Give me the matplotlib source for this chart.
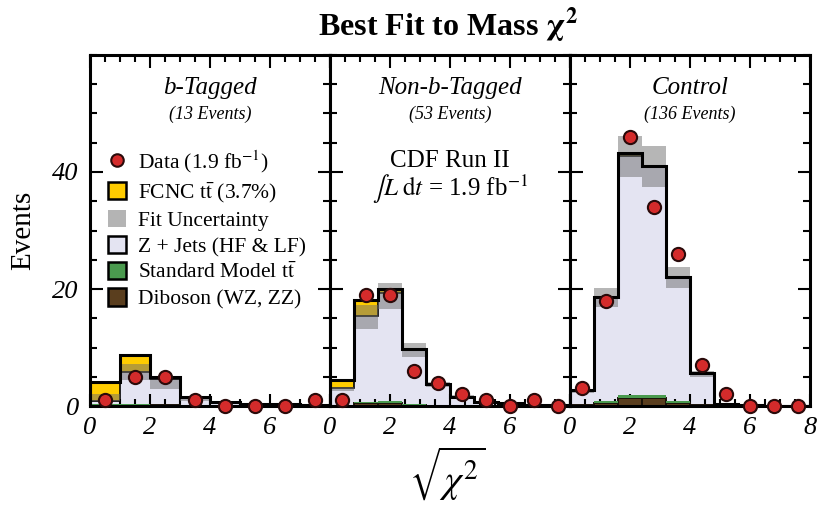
import numpy as np
import matplotlib
matplotlib.use("Agg")
import matplotlib.pyplot as plt
from matplotlib.lines import Line2D
from matplotlib.patches import Patch

plt.rcParams["font.family"] = "serif"
plt.rcParams["font.serif"] = ["Liberation Serif", "DejaVu Serif"]
plt.rcParams["mathtext.fontset"] = "stix"

# --- data (events per bin) ---
panels = ["b-Tagged", "Non-b-Tagged", "Control"]
n_events = ["(13 Events)", "(53 Events)", "(136 Events)"]

edges_b = [0, 1, 2, 3, 4, 5, 6, 7, 8]
data_b = [1, 5, 5, 1, 0, 0, 0, 1]
diboson_b = [0.25, 0.2, 0.1, 0.05, 0.03, 0.02, 0.01, 0.01]
smtt_b = [0.15, 0.2, 0.1, 0.05, 0.02, 0.01, 0.01, 0.0]
zjets_b = [0.5, 5.4, 4.4, 1.3, 0.5, 0.32, 0.23, 0.16]
fcnc_b = [3.2, 3.0, 0.35, 0.2, 0.1, 0.05, 0.05, 0.03]
band_lo_b = [0.9, 4.4, 2.95, 0.8, 0.35, 0.2, 0.15, 0.1]
band_hi_b = [2.1, 7.2, 4.4, 1.4, 0.6, 0.4, 0.3, 0.2]

edges_n = [0, 0.8, 1.6, 2.4, 3.2, 4.0, 4.8, 5.6, 6.4, 7.2, 8.0]
data_n = [1, 19, 19, 6, 4, 2, 1, 0, 1, 0]
diboson_n = [0.05, 0.5, 0.5, 0.2, 0.05, 0.02, 0.01, 0.01, 0.0, 0.0]
smtt_n = [0.05, 0.25, 0.3, 0.2, 0.05, 0.02, 0.01, 0.0, 0.0, 0.0]
zjets_n = [2.9, 14.65, 18.6, 9.2, 3.5, 1.51, 0.73, 0.46, 0.23, 0.1]
fcnc_n = [1.5, 2.8, 0.6, 0.2, 0.1, 0.05, 0.02, 0.03, 0.02, 0.05]
band_lo_n = [2.6, 13.2, 16.5, 8.3, 3.2, 1.3, 0.6, 0.35, 0.15, 0.05]
band_hi_n = [3.3, 17.2, 21.1, 10.7, 4.1, 1.8, 0.9, 0.55, 0.3, 0.15]

edges_c = [0, 0.8, 1.6, 2.4, 3.2, 4.0, 4.8, 5.6, 6.4, 7.2, 8.0]
data_c = [3, 18, 46, 34, 26, 7, 2, 0, 0, 0]
diboson_c = [0.1, 0.6, 1.3, 1.3, 0.6, 0.1, 0.02, 0.0, 0.0, 0.0]
smtt_c = [0.05, 0.3, 0.5, 0.5, 0.3, 0.05, 0.01, 0.0, 0.0, 0.0]
zjets_c = [2.5, 17.5, 41.0, 39.0, 20.95, 5.4, 0.37, 0.15, 0.08, 0.05]
fcnc_c = [0.05, 0.3, 0.5, 0.3, 0.15, 0.05, 0.0, 0.0, 0.0, 0.0]
band_lo_c = [2.3, 16.9, 39.2, 37.5, 20.1, 5.0, 0.3, 0.1, 0.0, 0.0]
band_hi_c = [2.9, 20.1, 46.2, 44.4, 23.8, 6.0, 0.5, 0.2, 0.1, 0.1]

C_FCNC = "#FFCC00"
C_UNC = "#B4B4B4"
C_ZJ = "#E4E4F2"
C_TT = "#4A9A4E"
C_DB = "#5A3E1E"
C_DATA = "#D42B2B"

fig = plt.figure(figsize=(8.22, 5.12), dpi=100)
gs = fig.add_gridspec(1, 3, left=0.1095, right=0.9854, bottom=0.207, top=0.8926, wspace=0)
axes = [fig.add_subplot(gs[0, i]) for i in range(3)]

sets = [
    (edges_b, data_b, diboson_b, smtt_b, zjets_b, fcnc_b, band_lo_b, band_hi_b),
    (edges_n, data_n, diboson_n, smtt_n, zjets_n, fcnc_n, band_lo_n, band_hi_n),
    (edges_c, data_c, diboson_c, smtt_c, zjets_c, fcnc_c, band_lo_c, band_hi_c),
]

for i, (ax, s) in enumerate(zip(axes, sets)):
    edges, data, db, tt, zj, fc, blo, bhi = [np.array(v, dtype=float) for v in s]
    left = edges[:-1]
    w = np.diff(edges)
    centers = left + w / 2

    ax.bar(left, db, width=w, align="edge", color=C_DB, edgecolor="#1a1208", lw=1.4, zorder=2)
    ax.bar(left, tt, width=w, bottom=db, align="edge", color=C_TT, lw=0, zorder=2)
    bkg = db + tt
    ax.bar(left, zj, width=w, bottom=bkg, align="edge", color=C_ZJ, lw=0, zorder=1)
    bkg = bkg + zj
    ax.bar(left, fc, width=w, bottom=bkg, align="edge", color=C_FCNC, edgecolor="k", lw=1.2, zorder=2)
    total = bkg + fc

    # fit uncertainty band drawn over the stack
    ax.bar(left, bhi - blo, width=w, bottom=blo, align="edge", color="#6e6e6e",
           alpha=0.5, lw=0, zorder=3)

    ax.stairs(total, edges, baseline=0, color="k", lw=2.2, zorder=4)

    ax.plot(centers, data, "o", ms=9.5, mfc=C_DATA, mec="#2a0a0a", mew=1.5,
            clip_on=False, zorder=6)

    ax.set_xlim(0, 8)
    ax.set_ylim(0, 60)
    ax.set_xticks([0, 2, 4, 6, 8])
    if i < 2:
        ax.set_xticklabels(["0", "2", "4", "6", ""])
    else:
        ax.set_xticklabels(["0", "2", "4", "6", "8"])
    ax.set_xticks(np.arange(0, 8.01, 0.5), minor=True)
    ax.set_yticks([0, 20, 40])
    ax.set_yticks(np.arange(0, 60.01, 5), minor=True)
    if i > 0:
        ax.set_yticklabels([])
    ax.tick_params(which="both", direction="in", top=True, right=True, width=1.5)
    ax.tick_params(which="major", length=9, labelsize=19, pad=8)
    ax.tick_params(which="minor", length=5)
    for lab in ax.get_xticklabels() + ax.get_yticklabels():
        lab.set_fontstyle("italic")
    for sp in ax.spines.values():
        sp.set_linewidth(2.2)
        sp.set_zorder(5)

    ax.text(0.5, 0.906, panels[i], transform=ax.transAxes, ha="center", va="center",
            fontsize=18, fontstyle="italic")
    ax.text(0.5, 0.832, n_events[i], transform=ax.transAxes, ha="center", va="center",
            fontsize=13, fontstyle="italic")

axes[0].set_ylabel("Events", fontsize=21, labelpad=12)

axes[1].text(0.5, 0.698, "CDF Run II", transform=axes[1].transAxes, ha="center",
             va="center", fontsize=18)
axes[1].text(0.5, 0.618, r"$\int L\;\mathrm{d}t$ = 1.9 fb$^{-1}$", transform=axes[1].transAxes,
             ha="center", va="center", fontsize=18)

handles = [
    Line2D([], [], ls="none", marker="o", ms=9, mfc=C_DATA, mec="#2a0a0a", mew=1.5),
    Patch(facecolor=C_FCNC, edgecolor="k", lw=1.8),
    Patch(facecolor=C_UNC, edgecolor="none"),
    Patch(facecolor=C_ZJ, edgecolor="k", lw=1.8),
    Patch(facecolor=C_TT, edgecolor="k", lw=1.8),
    Patch(facecolor=C_DB, edgecolor="k", lw=1.8),
]
labels = [
    r"Data (1.9 fb$^{-1}$)",
    r"FCNC t$\bar{\mathrm{t}}$ (3.7%)",
    "Fit Uncertainty",
    "Z + Jets (HF & LF)",
    r"Standard Model t$\bar{\mathrm{t}}$",
    "Diboson (WZ, ZZ)",
]
axes[0].legend(handles, labels, loc="upper left", bbox_to_anchor=(0.075, 0.735),
               frameon=False, fontsize=15.5, borderpad=0, borderaxespad=0,
               handlelength=0.85, handleheight=0.85, handletextpad=0.55, labelspacing=0.24)

fig.text(0.545, 0.951, r"Best Fit to Mass $\mathbf{\chi^2}$", ha="center", va="center",
         fontsize=23, fontweight="bold")
fig.text(0.545, 0.075, r"$\sqrt{\chi^2}$", ha="center", va="center", fontsize=28)

fig.savefig("out.png", dpi=100)
